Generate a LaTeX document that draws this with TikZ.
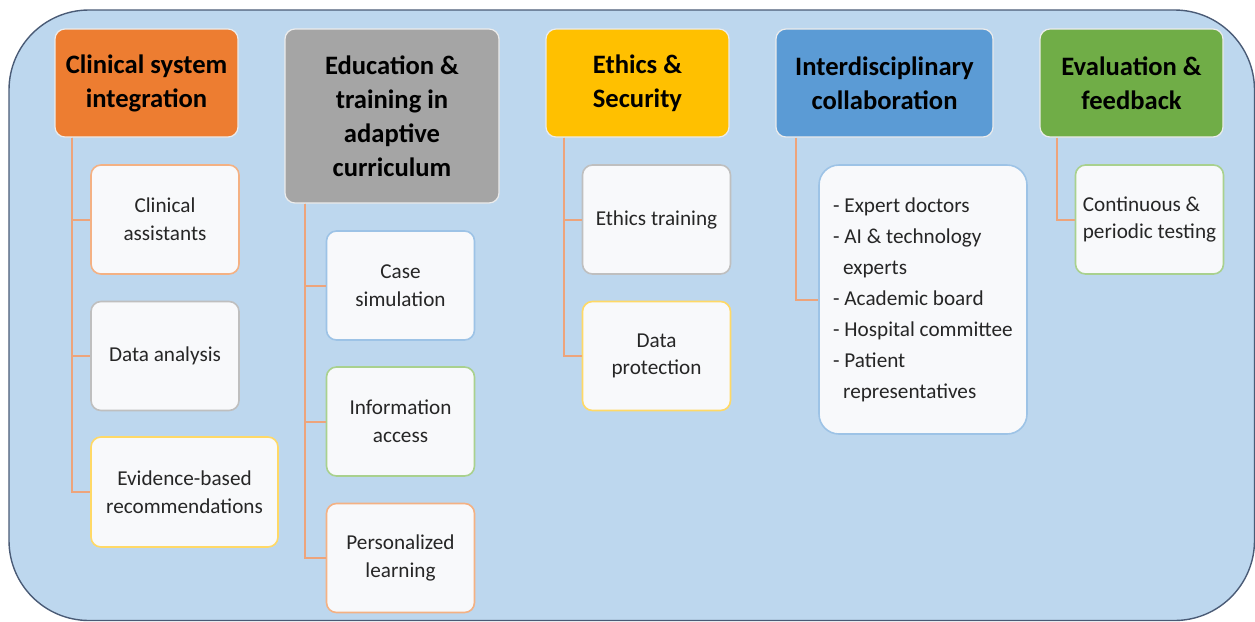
\documentclass[tikz,border=0pt]{standalone}
\usepackage{fontspec}
\setmainfont{Carlito}
\definecolor{bgblue}{HTML}{BDD7EE}
\definecolor{bgedge}{HTML}{4A5B76}
\definecolor{headorange}{HTML}{ED7D31}
\definecolor{headgray}{HTML}{A5A5A5}
\definecolor{headgold}{HTML}{FFC000}
\definecolor{headblue}{HTML}{5B9BD5}
\definecolor{headgreen}{HTML}{70AD47}
\definecolor{lineorange}{HTML}{F4B183}
\definecolor{linegray}{HTML}{BFBFBF}
\definecolor{linegold}{HTML}{FFD966}
\definecolor{lineblue}{HTML}{9DC3E6}
\definecolor{linegreen}{HTML}{A9D18E}
\definecolor{itemfill}{HTML}{F8F9FB}
\definecolor{linkorange}{HTML}{EDA47B}
\tikzset{
  head/.style={draw=white!85!gray, line width=0.6pt, rounded corners=5pt, inner sep=0pt,
    align=center, text=black, font=\fontsize{13.3}{17}\selectfont\bfseries},
  item/.style={fill=itemfill, line width=0.8pt, rounded corners=5pt, inner sep=0pt,
    align=center, minimum width=74pt, minimum height=54.5pt, text=black!85,
    font=\fontsize{10.6}{13.8}\selectfont},
  link/.style={draw=linkorange, line width=1pt}
}
\begin{document}
\begin{tikzpicture}[x=0.5pt, y=-0.5pt]
            \useasboundingbox (0,0) rectangle (1255,622);
            \draw[draw=bgedge, fill=bgblue, line width=0.7pt, rounded corners=40pt] (9,10) rectangle (1254.5,620.5);

            \node[head, fill=headorange, minimum width=91.5pt, minimum height=54pt] (clin) at (146.5,83) {Clinical system\\integration};
            \node[head, fill=headgray, minimum width=107pt, minimum height=87pt] (edu) at (392,116) {Education \&\\training in\\adaptive\\curriculum};
            \node[head, fill=headgold, minimum width=91.5pt, minimum height=54pt] (eth) at (637.5,83) {Ethics \&\\Security};
            \node[head, fill=headblue, minimum width=108.5pt, minimum height=54pt] (inter) at (884.5,83) {Interdisciplinary\\collaboration};
            \node[head, fill=headgreen, minimum width=91.5pt, minimum height=54pt] (eval) at (1131.5,83) {Evaluation \&\\feedback};

            \node[item, draw=lineorange] (clinA) at (165,219.5) {Clinical\\assistants};
            \node[item, draw=linegray] (clinB) at (165,356) {Data analysis};
            \node[item, draw=linegold, minimum width=93.5pt, minimum height=55pt] (clinC) at (184.5,492) {Evidence-based\\recommendations};

            \node[item, draw=lineblue] (eduA) at (400.5,285.5) {Case\\simulation};
            \node[item, draw=linegreen] (eduB) at (400.5,421.5) {Information\\access};
            \node[item, draw=lineorange] (eduC) at (400.5,558) {Personalized\\learning};

            \node[item, draw=linegray] (ethA) at (656.5,219.5) {Ethics training};
            \node[item, draw=linegold] (ethB) at (656.5,356) {Data\\protection};

            \node[item, draw=lineblue, rounded corners=10pt, minimum width=104pt, minimum height=134.5pt,
              align=left, font=\fontsize{10.6}{15.5}\selectfont] (interA) at (923,299.5)
              {- Expert doctors\\- AI \& technology\\\hspace*{5pt}experts\\- Academic board\\- Hospital committee\\- Patient\\\hspace*{5pt}representatives};

            \node[item, draw=linegreen, align=left] (evalA) at (1149.5,219.5) {Continuous \&\\periodic testing};

            \draw[link] ([xshift=9pt]clin.south west) |- (clinA.west);
            \draw[link] ([xshift=9pt]clin.south west) |- (clinB.west);
            \draw[link] ([xshift=9pt]clin.south west) |- (clinC.west);
            \draw[link] ([xshift=10.5pt]edu.south west) |- (eduA.west);
            \draw[link] ([xshift=10.5pt]edu.south west) |- (eduB.west);
            \draw[link] ([xshift=10.5pt]edu.south west) |- (eduC.west);
            \draw[link] ([xshift=9.5pt]eth.south west) |- (ethA.west);
            \draw[link] ([xshift=9.5pt]eth.south west) |- (ethB.west);
            \draw[link] ([xshift=10.5pt]inter.south west) |- (interA.west);
            \draw[link] ([xshift=9pt]eval.south west) |- (evalA.west);
\end{tikzpicture}
\end{document}
